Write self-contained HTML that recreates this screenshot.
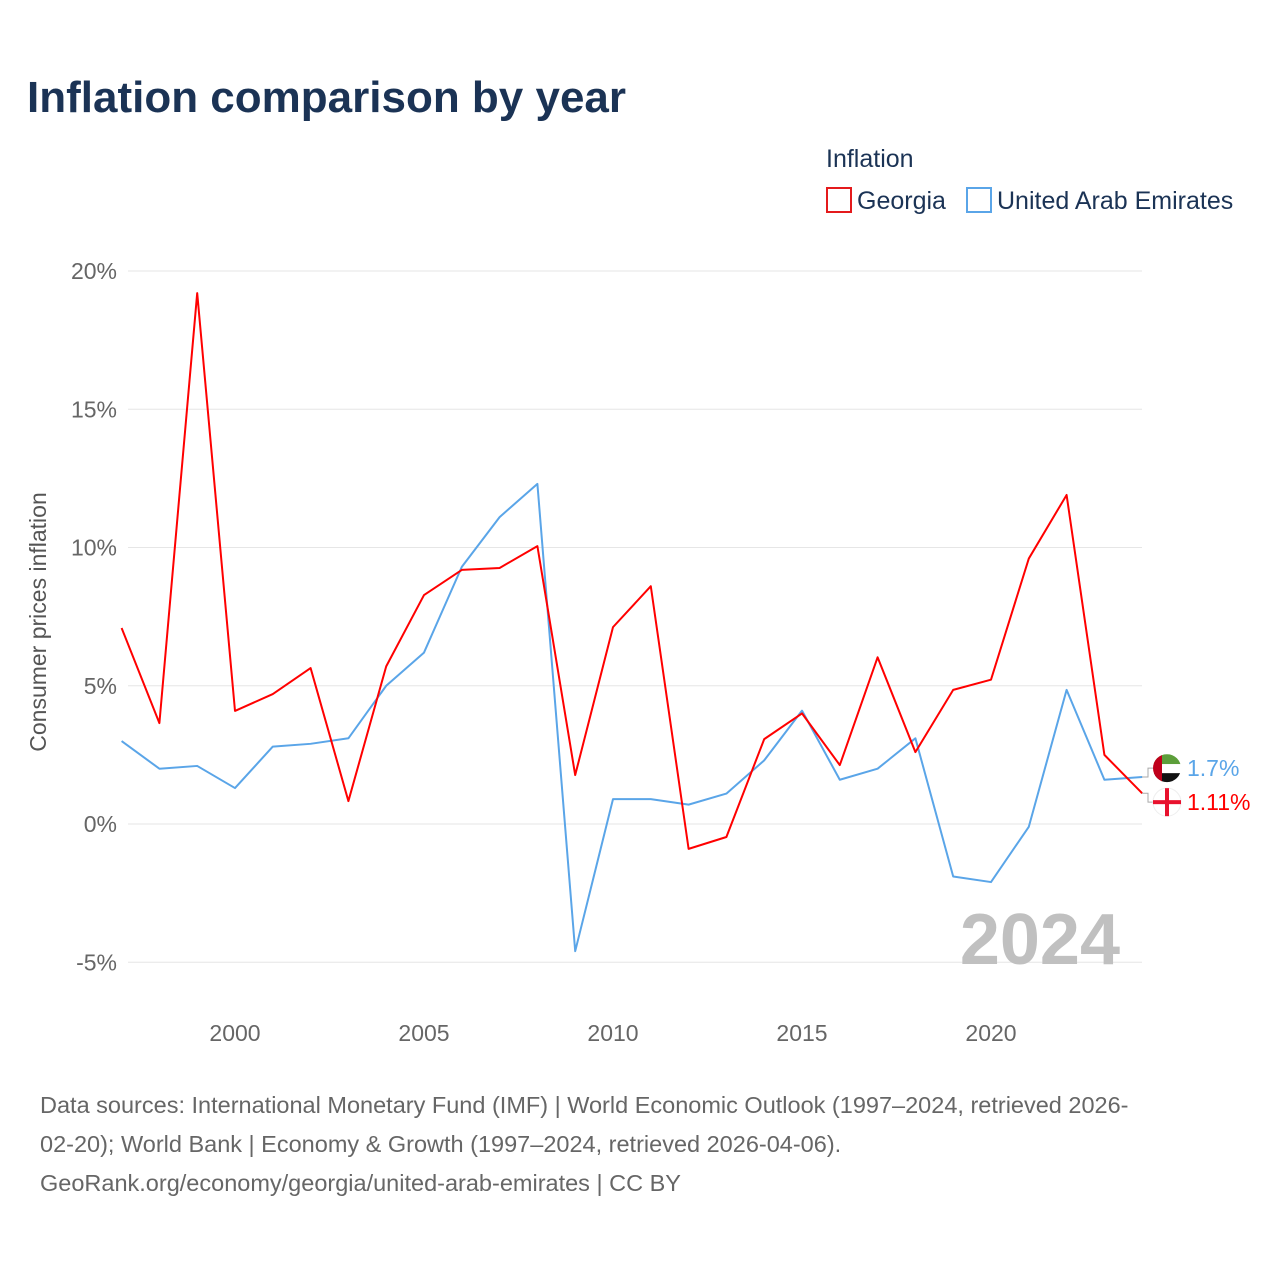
<!DOCTYPE html>
<html><head><meta charset="utf-8"><style>
body{margin:0;width:1280px;height:1280px;background:#fff;font-family:"Liberation Sans",sans-serif;overflow:hidden}
</style></head><body>
<svg width="1280" height="1280" xmlns="http://www.w3.org/2000/svg" style="font-family:'Liberation Sans',sans-serif">
<text x="27" y="112" font-size="44" font-weight="bold" fill="#1b3355">Inflation comparison by year</text>
<text x="826" y="167" font-size="25" fill="#1b3355">Inflation</text>
<g><rect x="827" y="188" width="24" height="24" fill="none" stroke="#e41a1c" stroke-width="2"/><text x="857" y="209" font-size="25" fill="#1b3355">Georgia</text></g>
<g><rect x="967" y="188" width="24" height="24" fill="none" stroke="#5aa5e8" stroke-width="2"/><text x="997" y="209" font-size="25" fill="#1b3355">United Arab Emirates</text></g>
<g id="grid"></g><g id="axes"></g><g id="series"></g>
<text x="46" y="622" font-size="23" fill="#555" transform="rotate(-90 46 622)" text-anchor="middle">Consumer prices inflation</text>
<text x="1120" y="964" font-size="72" font-weight="bold" fill="#c0c0c0" text-anchor="end">2024</text>
<g font-size="23.5" fill="#666">
<text x="40" y="1113">Data sources: International Monetary Fund (IMF) | World Economic Outlook (1997–2024, retrieved 2026-</text>
<text x="40" y="1152">02-20); World Bank | Economy &amp; Growth (1997–2024, retrieved 2026-04-06).</text>
<text x="40" y="1191">GeoRank.org/economy/georgia/united-arab-emirates | CC BY</text>
</g>
</svg>
<script>
const years=[1997,1998,1999,2000,2001,2002,2003,2004,2005,2006,2007,2008,2009,2010,2011,2012,2013,2014,2015,2016,2017,2018,2019,2020,2021,2022,2023,2024];
const georgia=[7.09,3.65,19.2,4.09,4.7,5.64,0.83,5.7,8.28,9.19,9.26,10.05,1.77,7.12,8.6,-0.9,-0.47,3.07,4.0,2.13,6.03,2.6,4.85,5.22,9.6,11.9,2.5,1.11];
const uae=[3.0,2.0,2.1,1.3,2.8,2.9,3.1,5.0,6.2,9.3,11.1,12.3,-4.6,0.9,0.9,0.7,1.1,2.3,4.1,1.6,2.0,3.1,-1.9,-2.1,-0.1,4.85,1.6,1.7];
const yTicks=[-5,0,5,10,15,20];
const xTicks=[2000,2005,2010,2015,2020];
const NS="http://www.w3.org/2000/svg";
const X=v=>121.6+(v-1997)*37.8, Y=v=>824-v*27.65;
function mk(t,a,p){const e=document.createElementNS(NS,t);for(const k in a)e.setAttribute(k,a[k]);p.appendChild(e);return e;}
const grid=document.getElementById('grid'),axes=document.getElementById('axes'),ser=document.getElementById('series');
yTicks.forEach(v=>{
 const l=mk('line',{x1:128,x2:1142,y1:Y(v),y2:Y(v),stroke:'#e6e6e6','stroke-width':1},grid);
 
 
 const t=mk('text',{x:117,y:Y(v)+8,'font-size':23,fill:'#666','text-anchor':'end'},axes);
 t.textContent=(v<0?'-'+Math.abs(v):v)+'%';
 
 
});
xTicks.forEach(v=>{
 const t=mk('text',{x:X(v),y:1041,'font-size':23,fill:'#666','text-anchor':'middle'},axes);
 t.textContent=v;
 
 
});
function line(vals,col,name){
 const p=mk('polyline',{points:vals.map((v,i)=>X(years[i])+','+Y(v)).join(' '),fill:'none',stroke:col,'stroke-width':2,'stroke-linejoin':'round'},ser);
 
 
}
line(uae,'#5aa5e8','uae-line');
line(georgia,'#f00','georgia-line');
const gl=Y(georgia[27]),ul=Y(uae[27]);
const mid=(gl+ul)/2;
const lu=Math.min(ul,mid-17), lg=Math.max(gl,mid+17);
mk('path',{d:`M1142 ${ul} h6 V${lu} h6`,stroke:'#aaa',fill:'none'},ser);
mk('path',{d:`M1142 ${gl} h6 V${lg} h6`,stroke:'#aaa',fill:'none'},ser);
const fu=mk('g',{},ser);


const cp=mk('clipPath',{id:'cu'},fu);
mk('circle',{cx:1167,cy:lu,r:14},cp);
const gu=mk('g',{'clip-path':'url(#cu)'},fu);
mk('rect',{x:1153,y:lu-14,width:28,height:10,fill:'#5c9e3a'},gu);
mk('rect',{x:1153,y:lu-4,width:28,height:9,fill:'#fff'},gu);
mk('rect',{x:1153,y:lu+5,width:28,height:10,fill:'#111'},gu);
mk('rect',{x:1153,y:lu-14,width:9,height:28,fill:'#c0001b'},gu);
const fg=mk('g',{},ser);


mk('circle',{cx:1167,cy:lg,r:14,fill:'#fff',stroke:'#eee'},fg);
mk('rect',{x:1165,y:lg-14,width:4,height:28,fill:'#e8112d'},fg);
mk('rect',{x:1153,y:lg-2,width:28,height:4,fill:'#e8112d'},fg);
const tu=mk('text',{x:1187,y:lu+8,'font-size':23,fill:'#5aa5e8'},ser);tu.textContent=uae[27]+'%';


const tg=mk('text',{x:1187,y:lg+8,'font-size':23,fill:'#f00'},ser);tg.textContent=georgia[27]+'%';


</script>
</body></html>
